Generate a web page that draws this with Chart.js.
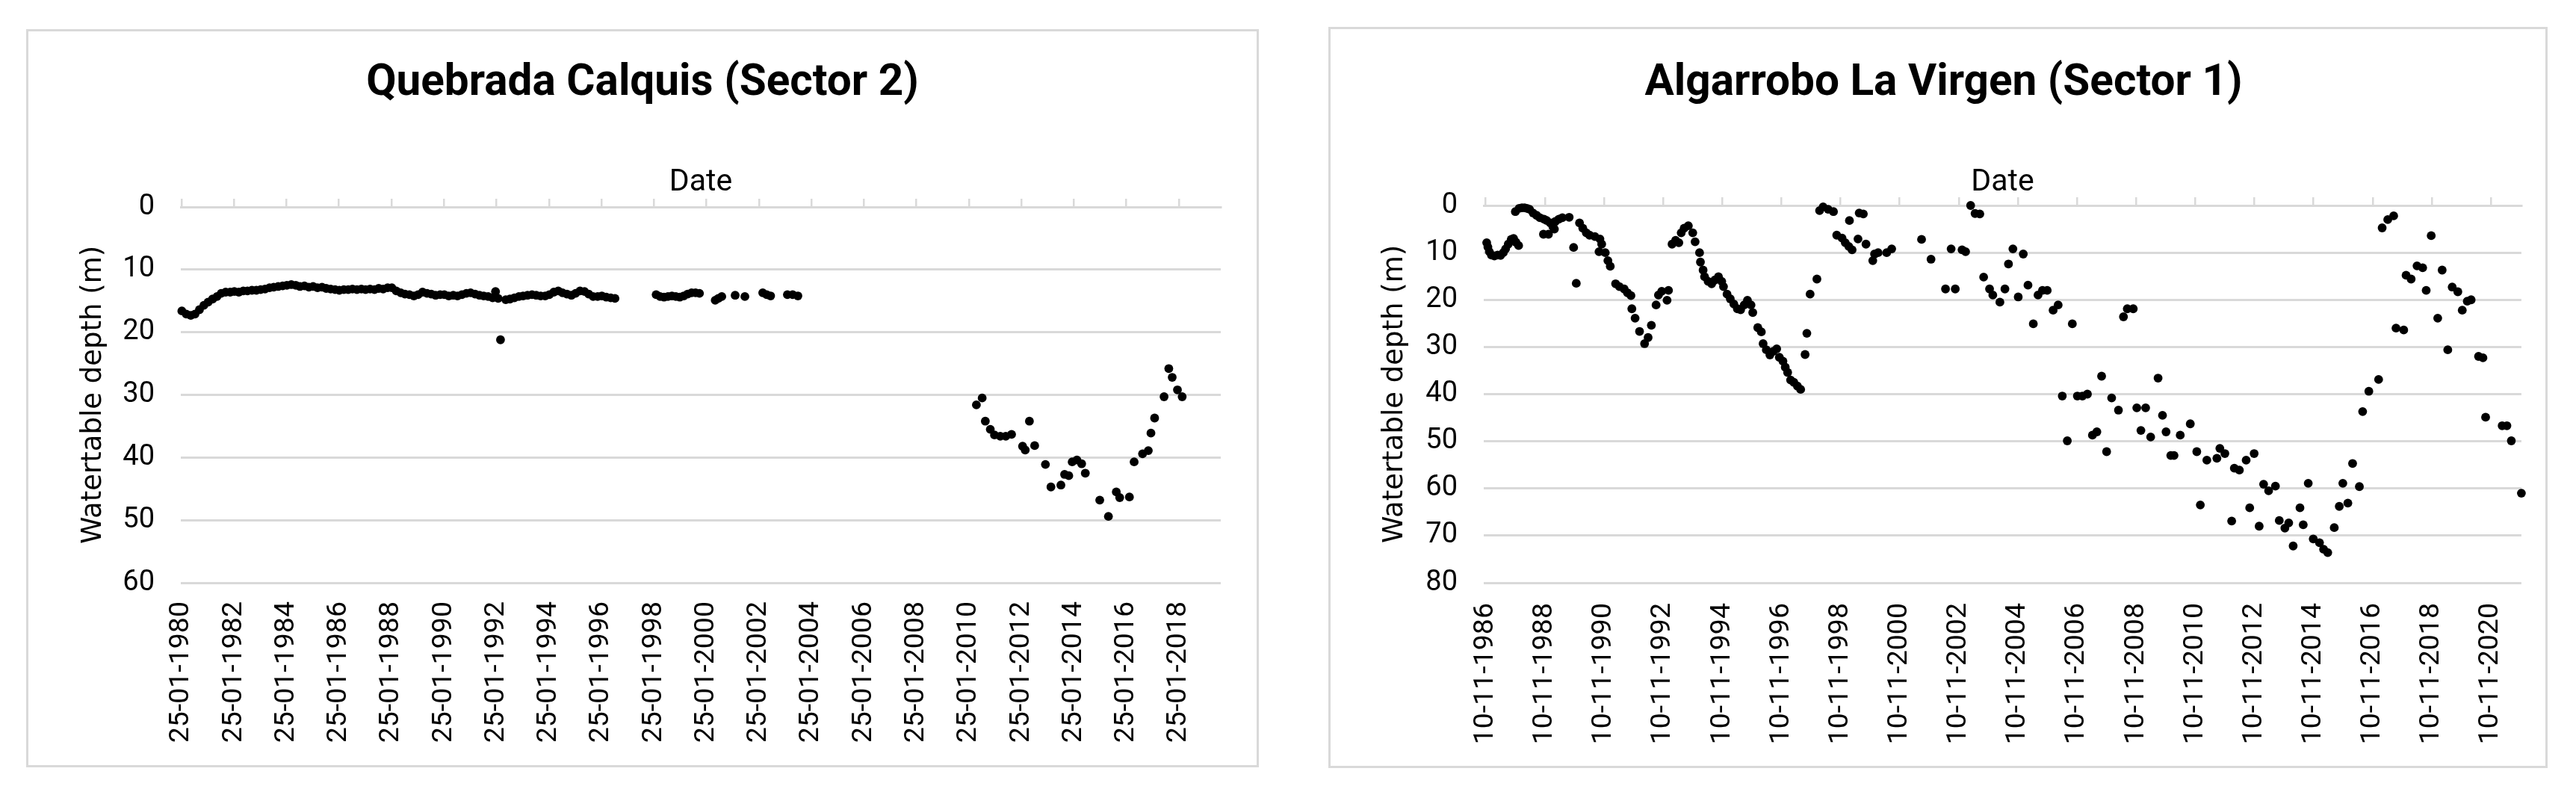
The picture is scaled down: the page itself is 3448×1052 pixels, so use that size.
<!DOCTYPE html>
<html>
<head>
<meta charset="utf-8">
<script src="https://cdn.jsdelivr.net/npm/chart.js@4.4.0/dist/chart.umd.min.js"></script>
<style>
  html, body { margin: 0; padding: 0; background: #fff; }
  body { width: 3448px; height: 1052px; position: relative; overflow: hidden; }
  .box { position: absolute; border: 3px solid #d9d9d9; box-sizing: border-box; background: #fff; }
  .box canvas { position: absolute; left: 0; top: 0; }
</style>
</head>
<body>
<div class="box" style="left:35px;top:39px;width:1650px;height:988px;"><canvas id="calquis"></canvas></div>
<div class="box" style="left:1778px;top:36px;width:1632px;height:992px;"><canvas id="virgen"></canvas></div>
<script>
// Quebrada Calquis (Sector 2) - decimal years / depth in m
const calquisYears = [
  1980.08, 1980.25, 1980.42, 1980.58, 1980.75, 1980.92,
  1981.08, 1981.25, 1981.42, 1981.58, 1981.75, 1981.92,
  1982.08, 1982.25, 1982.42, 1982.58, 1982.75, 1982.92,
  1983.08, 1983.25, 1983.42, 1983.58, 1983.75, 1983.92,
  1984.08, 1984.25, 1984.42, 1984.58, 1984.75, 1984.92,
  1985.08, 1985.25, 1985.42, 1985.58, 1985.75, 1985.92,
  1986.08, 1986.25, 1986.42, 1986.58, 1986.75, 1986.92,
  1987.08, 1987.25, 1987.42, 1987.58, 1987.75, 1987.92,
  1988.08, 1988.25, 1988.42, 1988.58, 1988.75, 1988.92,
  1989.08, 1989.25, 1989.42, 1989.58, 1989.75, 1989.92,
  1990.08, 1990.25, 1990.42, 1990.58, 1990.75, 1990.92,
  1991.08, 1991.25, 1991.42, 1991.58, 1991.75, 1991.92,
  1992.03, 1992.13, 1992.22, 1992.42, 1992.58, 1992.75, 1992.92,
  1993.08, 1993.25, 1993.42, 1993.58, 1993.75, 1993.92,
  1994.08, 1994.25, 1994.42, 1994.58, 1994.75, 1994.92,
  1995.08, 1995.25, 1995.42, 1995.58, 1995.75, 1995.92,
  1996.08, 1996.25, 1996.42, 1996.58,
  1998.15, 1998.30, 1998.45, 1998.60, 1998.75, 1998.90,
  1999.05, 1999.20, 1999.35, 1999.50, 1999.65, 1999.80,
  2000.40, 2000.52, 2000.65, 2001.16, 2001.53,
  2002.21, 2002.36, 2002.51, 2003.15, 2003.35, 2003.55,
  2010.35, 2010.57, 2010.69, 2010.88, 2011.04, 2011.26, 2011.47, 2011.69,
  2012.11, 2012.21, 2012.37, 2012.57, 2012.98, 2013.19, 2013.57, 2013.71,
  2013.87, 2014.00, 2014.18, 2014.36, 2014.50, 2015.05, 2015.38, 2015.68,
  2015.81, 2016.18, 2016.36, 2016.68, 2016.90, 2017.00, 2017.14, 2017.50,
  2017.68, 2017.81, 2018.01, 2018.19
];
const calquisDepth = [
  16.6, 17.1, 17.3, 17.1, 16.4, 15.7,
  15.2, 14.7, 14.3, 13.8, 13.6, 13.6,
  13.5, 13.6, 13.4, 13.4, 13.3, 13.3,
  13.2, 13.1, 12.9, 12.8, 12.7, 12.6,
  12.5, 12.4, 12.5, 12.7, 12.6, 12.8,
  12.7, 12.9, 12.8, 13.0, 13.1, 13.2,
  13.3, 13.2, 13.2, 13.1, 13.2, 13.1,
  13.2, 13.1, 13.2, 13.0, 13.1, 12.9,
  12.9, 13.4, 13.7, 13.9, 14.0, 14.2,
  14.0, 13.6, 13.8, 13.9, 14.1, 14.0,
  14.0, 14.2, 14.1, 14.2, 14.0, 13.8,
  13.7, 13.9, 14.1, 14.2, 14.3, 14.5,
  13.5, 14.6, 21.2, 14.8, 14.7, 14.5, 14.3,
  14.2, 14.1, 14.0, 14.1, 14.2, 14.2,
  14.0, 13.6, 13.4, 13.7, 13.9, 14.1,
  13.8, 13.4, 13.5, 13.9, 14.3, 14.3,
  14.2, 14.4, 14.5, 14.6,
  14.0, 14.3, 14.4, 14.3, 14.2, 14.3,
  14.4, 14.2, 13.9, 13.7, 13.7, 13.8,
  14.9, 14.6, 14.3, 14.1, 14.3,
  13.7, 14.0, 14.2, 14.0, 14.0, 14.2,
  31.6, 30.5, 34.2, 35.5, 36.4, 36.6, 36.6, 36.3,
  38.2, 38.8, 34.2, 38.1, 41.1, 44.7, 44.4, 42.7,
  42.9, 40.7, 40.4, 41.0, 42.5, 46.8, 49.4, 45.5,
  46.4, 46.3, 40.7, 39.4, 38.9, 36.1, 33.7, 30.3,
  25.8, 27.2, 29.2, 30.3
];
const calquisTicks = [
  '25-01-1980', '25-01-1982', '25-01-1984', '25-01-1986', '25-01-1988',
  '25-01-1990', '25-01-1992', '25-01-1994', '25-01-1996', '25-01-1998',
  '25-01-2000', '25-01-2002', '25-01-2004', '25-01-2006', '25-01-2008',
  '25-01-2010', '25-01-2012', '25-01-2014', '25-01-2016', '25-01-2018'
];

// Algarrobo La Virgen (Sector 1)
const virgenYears = [
  1986.89, 1986.93, 1986.98, 1987.05, 1987.15, 1987.26, 1987.36, 1987.45,
  1987.53, 1987.62, 1987.72, 1987.80, 1987.88, 1987.97,
  1987.86, 1987.99, 1988.08, 1988.17, 1988.25, 1988.34, 1988.46, 1988.58,
  1988.69, 1988.81, 1988.83, 1988.92, 1988.98, 1989.04, 1989.13, 1989.18,
  1989.21, 1989.33, 1989.45, 1989.68, 1989.83, 1989.92,
  1990.03, 1990.14, 1990.26, 1990.37, 1990.55, 1990.69, 1990.72, 1990.78,
  1990.90, 1990.99, 1991.07, 1991.25, 1991.38, 1991.54, 1991.65, 1991.77,
  1991.80, 1991.91, 1992.06, 1992.23, 1992.35, 1992.46, 1992.62, 1992.70,
  1992.81, 1992.99, 1993.04, 1993.16, 1993.28, 1993.39, 1993.47, 1993.57,
  1993.71, 1993.86, 1993.94, 1994.09, 1994.12, 1994.21, 1994.26, 1994.38,
  1994.50, 1994.61, 1994.73, 1994.84, 1994.90, 1995.02, 1995.13, 1995.25,
  1995.37, 1995.48, 1995.60, 1995.71, 1995.83, 1995.89, 1996.06, 1996.18,
  1996.24, 1996.35, 1996.47, 1996.59, 1996.70, 1996.79, 1996.91, 1996.99,
  1997.07, 1997.17, 1997.28, 1997.40, 1997.51, 1997.66, 1997.72, 1997.83,
  1998.06, 1998.15, 1998.27, 1998.44, 1998.62, 1998.73, 1998.91, 1999.02,
  1999.14, 1999.16, 1999.25, 1999.45, 1999.49, 1999.63, 1999.72, 1999.95,
  2000.01, 2000.13, 2000.42, 2000.59, 2001.60, 2001.92, 2002.41, 2002.60,
  2002.74, 2002.97, 2003.09, 2003.26, 2003.41, 2003.57, 2003.70, 2003.90,
  2004.01, 2004.25, 2004.42, 2004.54, 2004.69, 2004.87, 2005.04, 2005.20,
  2005.38, 2005.54, 2005.69, 2005.85, 2006.05, 2006.22, 2006.36, 2006.53,
  2006.70, 2006.87, 2007.04, 2007.21, 2007.38, 2007.53, 2007.69, 2007.86,
  2008.03, 2008.26, 2008.43, 2008.56, 2008.76, 2008.88, 2009.02, 2009.18,
  2009.35, 2009.60, 2009.75, 2009.87, 2010.03, 2010.14, 2010.35, 2010.69,
  2010.91, 2011.03, 2011.25, 2011.59, 2011.69, 2011.86, 2012.09, 2012.18,
  2012.35, 2012.58, 2012.70, 2012.85, 2013.02, 2013.17, 2013.34, 2013.57,
  2013.70, 2013.89, 2014.02, 2014.17, 2014.40, 2014.51, 2014.68, 2014.85,
  2015.06, 2015.20, 2015.34, 2015.56, 2015.73, 2015.85, 2016.02, 2016.18,
  2016.41, 2016.52, 2016.73, 2017.06, 2017.18, 2017.37, 2017.57, 2017.65,
  2017.91, 2017.99, 2018.16, 2018.36, 2018.55, 2018.67, 2018.84, 2019.06,
  2019.21, 2019.40, 2019.55, 2019.74, 2019.89, 2020.06, 2020.19, 2020.44,
  2020.59, 2020.68, 2021.24, 2021.40, 2021.55, 2021.89
];
const virgenDepth = [
  7.9, 8.8, 9.8, 10.5, 10.7, 10.5, 10.6, 10.0,
  9.2, 8.2, 7.2, 7.0, 7.8, 8.5,
  1.3, 0.6, 0.5, 0.5, 0.6, 0.8, 1.6, 2.1,
  2.6, 6.1, 2.9, 3.2, 6.1, 3.7, 4.5, 5.0,
  3.4, 2.9, 2.6, 2.5, 8.9, 16.5,
  3.7, 4.8, 5.8, 6.3, 6.6, 9.8, 7.1, 8.2,
  10.0, 11.7, 12.9, 16.6, 17.2, 17.7, 18.5, 19.1,
  21.9, 23.9, 26.7, 29.3, 28.0, 25.4, 21.1, 19.0,
  18.2, 20.1, 18.0, 8.2, 7.4, 7.9, 5.8, 4.8,
  4.3, 5.8, 7.7, 10.0, 12.0, 13.7, 15.1, 16.1,
  16.6, 15.8, 15.1, 16.1, 17.2, 18.8, 19.8, 20.9,
  21.9, 22.1, 21.1, 20.1, 21.1, 22.7, 25.9, 26.8,
  29.3, 30.6, 31.7, 30.9, 30.4, 32.2, 33.0, 34.3,
  35.4, 37.0, 37.5, 38.3, 39.0, 31.6, 27.1, 18.8,
  15.6, 1.1, 0.3, 0.8, 1.3, 6.3, 6.9, 7.9,
  8.7, 3.2, 9.4, 7.1, 1.6, 1.8, 8.2, 11.7,
  10.3, 10.0, 10.0, 9.2, 7.2, 11.4, 17.7, 9.2,
  17.7, 9.4, 9.8, 0.0, 1.7, 1.8, 15.2, 17.7,
  19.0, 20.5, 17.7, 12.4, 9.2, 19.4, 10.3, 16.9,
  25.1, 19.0, 18.0, 18.0, 22.2, 21.1, 40.4, 49.9,
  25.1, 40.4, 40.4, 40.0, 48.7, 48.0, 36.2, 52.2,
  40.8, 43.4, 23.6, 21.9, 21.9, 42.9, 47.7, 42.9,
  49.1, 36.6, 44.5, 48.0, 53.0, 53.0, 48.7, 46.3,
  52.2, 63.5, 54.0, 53.6, 51.5, 52.6, 66.9, 55.7,
  56.1, 54.0, 64.1, 52.6, 68.0, 59.1, 60.5, 59.5,
  66.8, 68.4, 67.3, 72.2, 64.1, 67.7, 58.9, 70.7,
  71.5, 72.9, 73.6, 68.3, 63.8, 58.9, 63.1, 54.7,
  59.6, 43.7, 39.4, 36.9, 4.75, 3.0, 2.2, 26.0,
  26.4, 14.8, 15.6, 12.8, 13.2, 18.0, 6.4, 23.9,
  13.7, 30.6, 17.3, 18.3, 22.2, 20.3, 20.0, 32.0,
  32.3, 44.9, 46.7, 46.7, 49.9, 61.0
];
const virgenTicks = [
  '10-11-1986', '10-11-1988', '10-11-1990', '10-11-1992', '10-11-1994',
  '10-11-1996', '10-11-1998', '10-11-2000', '10-11-2002', '10-11-2004',
  '10-11-2006', '10-11-2008', '10-11-2010', '10-11-2012', '10-11-2014',
  '10-11-2016', '10-11-2018', '10-11-2020'
];

Chart.defaults.font.family = 'Roboto';
Chart.defaults.color = '#000';

// "DD-MM-YYYY" -> decimal year
function toYear(label) {
  const [d, m, y] = label.split('-').map(Number);
  const start = Date.UTC(y, 0, 1);
  const end = Date.UTC(y + 1, 0, 1);
  return y + (Date.UTC(y, m - 1, d) - start) / (end - start);
}

function makeChart(id, o) {
  const canvas = document.getElementById(id);
  const W = canvas.parentNode.clientWidth;
  const H = canvas.parentNode.clientHeight;
  canvas.width = W;
  canvas.height = H;
  canvas.style.width = W + 'px';
  canvas.style.height = H + 'px';

  const tickVals = o.ticks.map(toYear);
  const setTicks = scale => { scale.ticks = tickVals.map(v => ({ value: v })); };

  const titleSize = 58.5, dateSize = 41, yTitleSize = 37;
  const titlePadTop = o.titleCenterY - titleSize * 0.6;
  const titleH = titlePadTop + titleSize * 1.2 + 10;
  const datePadTop = o.dateCenterY - titleH - dateSize * 0.6;
  const yTitlePad = o.yTitleCenterX - o.padLeft - yTitleSize * 0.6;

  return new Chart(canvas, {
    type: 'scatter',
    data: {
      datasets: [{
        data: o.years.map((x, i) => ({ x, y: o.depth[i] })),
        backgroundColor: '#000',
        borderColor: '#000',
        borderWidth: 0,
        pointRadius: 5.9,
        pointHoverRadius: 5.9,
        clip: false,
      }],
    },
    options: {
      responsive: false,
      animation: false,
      devicePixelRatio: 1,
      layout: {
        padding: { left: o.padLeft, right: W - o.area.right, top: 0, bottom: 0 },
      },
      plugins: {
        legend: { display: false },
        tooltip: { enabled: false },
        title: {
          display: true,
          text: o.title,
          color: '#000',
          font: { family: 'Roboto', size: titleSize, weight: 'bold', lineHeight: 1.2 },
          padding: { top: titlePadTop, bottom: 10 },
        },
      },
      scales: {
        x: {
          type: 'linear',
          position: 'bottom',
          min: o.xMin,
          max: o.xMax,
          afterBuildTicks: setTicks,
          afterFit: s => { s.height = H - o.area.bottom; },
          grid: { display: false, drawTicks: false },
          border: { display: false },
          ticks: {
            autoSkip: false,
            minRotation: 90,
            maxRotation: 90,
            padding: o.labelGap,
            color: '#000',
            font: { size: 37.5 },
            callback: (v, i) => o.ticks[i],
          },
        },
        xTop: {
          type: 'linear',
          axis: 'x',
          position: 'top',
          min: o.xMin,
          max: o.xMax,
          afterBuildTicks: setTicks,
          afterFit: s => { s.height = o.area.top - titleH; },
          grid: {
            display: true,
            drawOnChartArea: false,
            drawTicks: true,
            tickLength: 11,
            color: '#d9d9d9',
            lineWidth: 2.5,
          },
          border: { display: true, color: '#d9d9d9', width: 3 },
          ticks: { display: false },
          title: {
            display: true,
            text: 'Date',
            color: '#000',
            font: { size: dateSize, lineHeight: 1.2 },
            padding: { top: datePadTop, bottom: 0 },
          },
        },
        y: {
          type: 'linear',
          reverse: true,
          min: 0,
          max: o.yMax,
          afterFit: s => { s.width = o.area.left - o.padLeft; },
          grid: { color: '#d9d9d9', lineWidth: 3, drawTicks: false },
          border: { display: false },
          ticks: { stepSize: 10, padding: 35, color: '#000', font: { size: 38 } },
          title: {
            display: true,
            text: 'Watertable depth (m)',
            color: '#000',
            font: { family: 'DejaVu Sans', size: yTitleSize, lineHeight: 1.2 },
            padding: { top: yTitlePad, bottom: 0 },
          },
        },
      },
    },
  });
}

makeChart('calquis', {
  title: 'Quebrada Calquis (Sector 2)',
  years: calquisYears,
  depth: calquisDepth,
  ticks: calquisTicks,
  xMin: 1980.04,
  xMax: 2019.66,
  yMax: 60,
  area: { left: 204, top: 235, right: 1596, bottom: 738 },
  padLeft: 48,
  titleCenterY: 70,
  dateCenterY: 203,
  yTitleCenterX: 87,
  labelGap: 25,
});

makeChart('virgen', {
  title: 'Algarrobo La Virgen (Sector 1)',
  years: virgenYears,
  depth: virgenDepth,
  ticks: virgenTicks,
  xMin: 1986.79,
  xMax: 2021.89,
  yMax: 80,
  area: { left: 205, top: 236, right: 1601, bottom: 741 },
  padLeft: 40,
  titleCenterY: 73.5,
  dateCenterY: 205.5,
  yTitleCenterX: 86,
  labelGap: 27,
});
</script>
</body>
</html>
